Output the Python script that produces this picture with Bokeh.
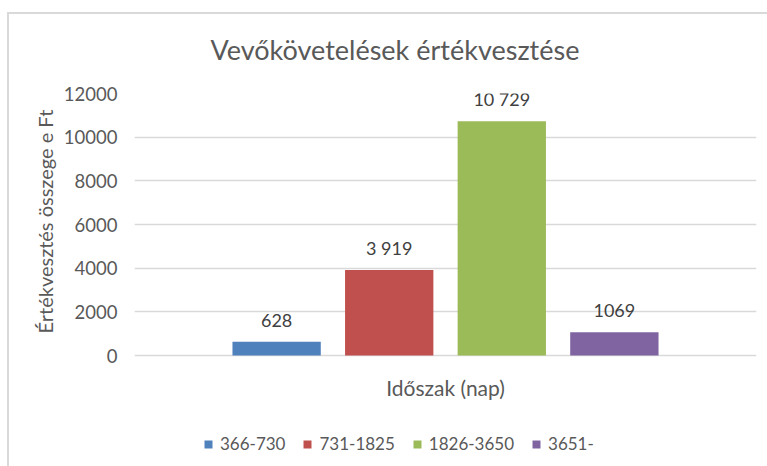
from bokeh.plotting import figure
from bokeh.models import (Range1d, FixedTicker, ColumnDataSource, LabelSet, Label,
                          Legend, LegendItem, Title)
from bokeh.core.properties import value
from bokeh.embed import file_html
from bokeh.resources import INLINE

# ---- data ----
title_text = "Vevőkövetelések értékvesztése"
series = ["366-730", "731-1825", "1826-3650", "3651-"]
values = [628, 3919, 10729, 1069]
value_labels = ["628", "3 919", "10 729", "1069"]
colors = ["#4F81BD", "#C0504D", "#9BBB59", "#8064A2"]
y_ticks = [0, 2000, 4000, 6000, 8000, 10000, 12000]
y_axis_title = "Értékvesztés összege e Ft"
x_axis_title = "Időszak (nap)"

FONT = "Lato"
TEXT = "#595959"
GRID = "#D9D9D9"

# ---- layout (pixels) ----
W, H = 767, 466
PLOT_LEFT, PLOT_RIGHT = 134, 756      # plot-area edges
PLOT_TOP, PLOT_ZERO = 93, 355         # y of the top tick and of the zero line
y_top = y_ticks[-1]
# the frame reaches to the bottom of the canvas so that the axis title and legend
# below the zero line can live inside it (annotations are clipped to the frame)
y_bottom = -y_top * (H - PLOT_ZERO) / (PLOT_ZERO - PLOT_TOP)

bar_width = 0.142
bar_step = 0.181
n = len(series)
xs = [0.5 + (i - (n - 1) / 2) * bar_step for i in range(n)]

# chart-area border of the cropped Excel chart (open to the right and bottom)
border_css = ("linear-gradient(#D9D9D9,#D9D9D9) 7px 12px / 2px 100% no-repeat, "
              "linear-gradient(#D9D9D9,#D9D9D9) 7px 12px / 100% 2px no-repeat, white")

p = figure(width=W, height=H, output_backend="svg", toolbar_location=None,
           x_range=Range1d(0, 1), y_range=Range1d(y_bottom, y_top),
           x_axis_location=None,
           min_border_left=PLOT_LEFT, min_border_right=W - PLOT_RIGHT,
           min_border_top=PLOT_TOP, min_border_bottom=0,
           styles={"background": border_css})

p.background_fill_color = None
p.border_fill_color = None
p.outline_line_color = None

# title
p.title.text = title_text
p.title.text_font = FONT
p.title.text_font_size = "27px"
p.title.text_font_style = "normal"
p.title.text_color = TEXT
p.title.align = "left"
p.title.offset = 76
p.title.standoff = 56

# bars
items = []
for i in range(n):
    src = ColumnDataSource(dict(x=[xs[i]], top=[values[i]]))
    r = p.vbar(x="x", top="top", bottom=0, width=bar_width, source=src,
               fill_color=colors[i], line_color=None)
    items.append(LegendItem(label=series[i], renderers=[r]))

# value labels
lab_src = ColumnDataSource(dict(x=xs, y=values, t=value_labels))
labels = LabelSet(x="x", y="y", text="t", source=lab_src, y_offset=15,
                  text_align="center", text_baseline="alphabetic",
                  text_font=value(FONT), text_font_size="18px",
                  text_color="#404040")
p.add_layout(labels)

# y axis (ticks only)
p.yaxis.ticker = FixedTicker(ticks=y_ticks)
p.yaxis.axis_line_color = None
p.yaxis.major_tick_line_color = None
p.yaxis.minor_tick_line_color = None
p.yaxis.major_tick_out = 0
p.yaxis.minor_tick_out = 0
p.yaxis.major_label_standoff = 17
p.yaxis.major_label_text_font = FONT
p.yaxis.major_label_text_font_size = "18.5px"
p.yaxis.major_label_text_color = TEXT

# y axis title, placed along the value part of the axis
y_title = Title(text=y_axis_title, align="left", offset=133, standoff=7,
                text_font=FONT, text_font_size="20px", text_font_style="normal",
                text_color=TEXT)
p.add_layout(y_title, "left")

# grid (also gives the grey zero line)
p.xgrid.visible = False
p.ygrid.ticker = FixedTicker(ticks=y_ticks)
p.ygrid.grid_line_color = GRID
p.ygrid.grid_line_width = 1.3

# x axis title below the zero line, centred on the plot area
x_title = Label(x=sum(xs) / n, y=H - 387, x_units="data", y_units="screen",
                text=x_axis_title, text_align="center", text_baseline="middle",
                text_font=FONT, text_font_size="21px", text_color=TEXT)
p.add_layout(x_title)

# legend
legend = Legend(items=items, location=(69, 12), orientation="horizontal",
                glyph_width=10, glyph_height=10, label_standoff=7, spacing=17,
                padding=0, margin=0, border_line_color=None,
                background_fill_color=None, background_fill_alpha=0,
                label_text_font=FONT, label_text_font_size="17px",
                label_text_color=TEXT)
p.add_layout(legend, "center")

open("out.html", "w").write(file_html(p, INLINE))
